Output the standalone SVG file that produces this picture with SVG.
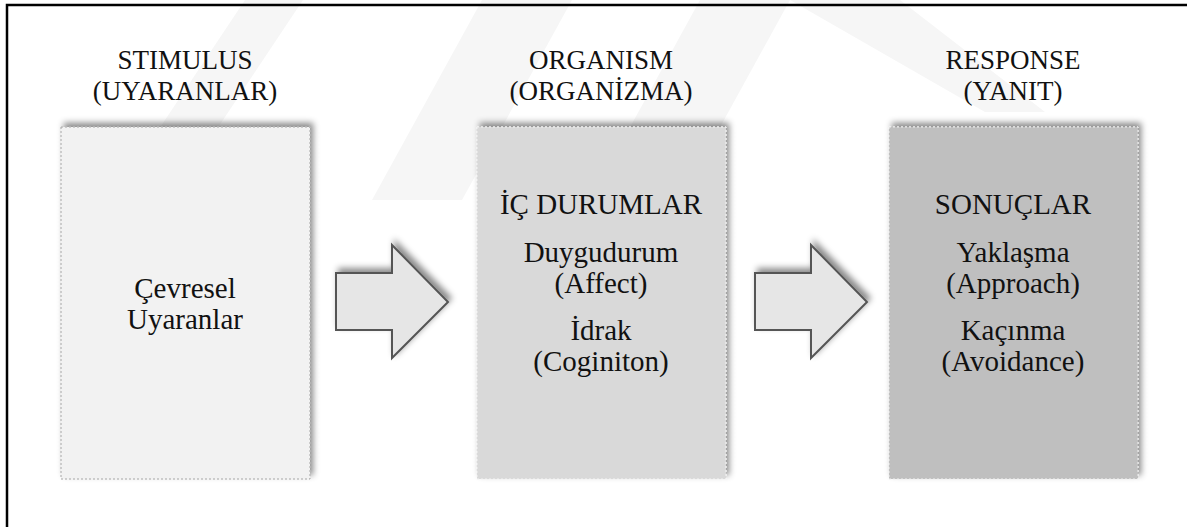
<svg xmlns="http://www.w3.org/2000/svg" width="1187" height="527" viewBox="0 0 1187 527">
  <defs>
    <filter id="shadow" x="-10%" y="-10%" width="120%" height="120%">
      <feDropShadow dx="3" dy="-4" stdDeviation="3" flood-color="#000" flood-opacity="0.45"/>
    </filter>
    <path id="blockArrow" d="M0 0 H56 V-28 L112 29 L56 85 V57 H0 Z"/>
  </defs>
  <style>
    text { font-family: "Liberation Serif", "Times New Roman", serif; fill: #111; text-anchor: middle; }
    .head { font-size: 27px; }
    .body { font-size: 29px; }
    .box { stroke-width: 1; stroke-dasharray: 2 2; filter: url(#shadow); }
    .arrow { fill: #e6e6e6; stroke: #555; stroke-width: 2; stroke-linejoin: miter; filter: url(#shadow); }
    .mark { fill: #f6f6f6; }
  </style>

  <rect width="1187" height="527" fill="#fff"/>

  <!-- faint background emblem -->
  <g id="emblem">
    <polygon class="mark" points="245,0 303,0 203,150 145,150"/>
    <polygon class="mark" points="482,0 572,0 462,200 372,200"/>
    <polygon class="mark" points="700,0 790,0 680,200 590,200"/>
    <polygon class="mark" points="790,0 900,0 1045,112 985,112"/>
  </g>

  <!-- frame -->
  <path d="M7 527 V5 H1187" fill="none" stroke="#000" stroke-width="2.5"/>

  <!-- column headings -->
  <g id="headings">
    <text class="head" x="185" y="69">STIMULUS</text>
    <text class="head" x="185" y="100">(UYARANLAR)</text>
    <text class="head" x="601" y="69">ORGANISM</text>
    <text class="head" x="601" y="100">(ORGANİZMA)</text>
    <text class="head" x="1013" y="69">RESPONSE</text>
    <text class="head" x="1013" y="100">(YANIT)</text>
  </g>

  <g id="stimulus">
    <rect class="box" x="61" y="127" width="249" height="352" fill="#f2f2f2" stroke="#a6a6a6"/>
    <text class="body" x="185" y="298">Çevresel</text>
    <text class="body" x="185" y="329">Uyaranlar</text>
  </g>

  <g id="organism">
    <rect class="box" x="477" y="127" width="249" height="352" fill="#d9d9d9" stroke="#f2f2f2"/>
    <text class="body" x="601" y="214">İÇ DURUMLAR</text>
    <text class="body" x="601" y="262">Duygudurum</text>
    <text class="body" x="601" y="293">(Affect)</text>
    <text class="body" x="601" y="340">İdrak</text>
    <text class="body" x="601" y="371">(Coginiton)</text>
  </g>

  <g id="response">
    <rect class="box" x="889" y="127" width="249" height="352" fill="#bfbfbf" stroke="#eeeeee"/>
    <text class="body" x="1013" y="214">SONUÇLAR</text>
    <text class="body" x="1013" y="262">Yaklaşma</text>
    <text class="body" x="1013" y="293">(Approach)</text>
    <text class="body" x="1013" y="340">Kaçınma</text>
    <text class="body" x="1013" y="371">(Avoidance)</text>
  </g>

  <!-- connectors -->
  <g id="connectors">
    <use href="#blockArrow" class="arrow" x="336" y="273"/>
    <use href="#blockArrow" class="arrow" x="755" y="273"/>
  </g>
</svg>
